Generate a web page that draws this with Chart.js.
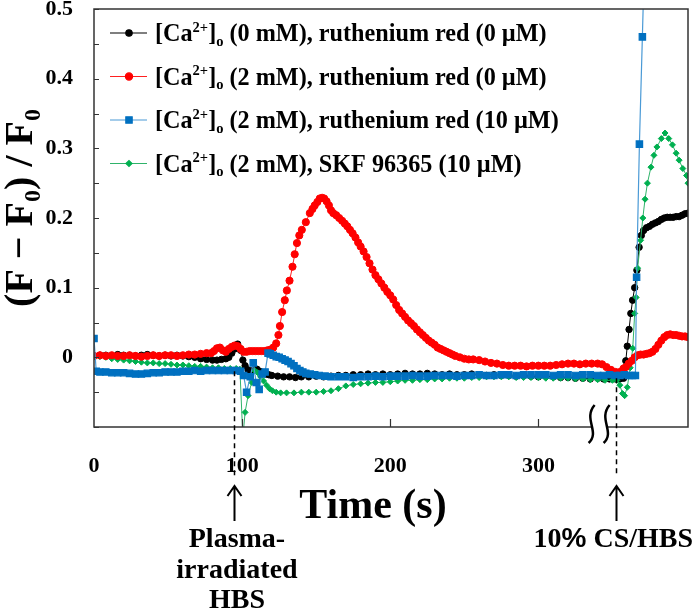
<!DOCTYPE html>
<html>
<head>
<meta charset="utf-8">
<script src="https://cdn.jsdelivr.net/npm/chart.js@4"></script>
<style>
html, body { margin: 0; padding: 0; background: #fff; }
#wrap { width: 697px; height: 612px; position: relative; }
</style>
</head>
<body>
<div id="wrap"><canvas id="chart"></canvas></div>
<script>
// [time (s), (F - F0) / F0]
var black = [
  [0,0.002],[4,0.003],[8,0.003],[12,0.002],[16,0.004],[20,0.003],[24,0.003],[28,0.002],[32,0.003],[36,0.004],
  [40,0.003],[44,0.002],[48,0.003],[52,0.002],[56,0.003],[60,0.002],[64,0.001],[68,0.000],[72,-0.002],[76,-0.003],
  [80,-0.004],[83,-0.004],[86,-0.003],[89,-0.002],[91,0.000],[93,0.006],[95,0.012],[97,0.019],[99,0.010],[100.5,-0.004],
  [102,-0.012],[104,-0.018],[106,-0.020],[108,-0.018],[110,-0.017],[112,-0.020],[114,-0.022],[116,-0.024],[118,-0.025],[120,-0.026],
  [124,-0.027],[128,-0.028],[132,-0.028],[136,-0.029],[140,-0.028],[145,-0.028],[150,-0.027],[155,-0.028],[160,-0.027],[165,-0.026],
  [170,-0.026],[175,-0.025],[180,-0.025],[185,-0.024],[190,-0.025],[195,-0.024],[200,-0.025],[205,-0.024],[210,-0.023],[215,-0.024],
  [220,-0.024],[225,-0.023],[230,-0.024],[235,-0.025],[240,-0.024],[245,-0.025],[250,-0.025],[255,-0.024],[260,-0.025],[265,-0.026],
  [270,-0.025],[275,-0.026],[280,-0.026],[285,-0.027],[290,-0.026],[295,-0.027],[300,-0.028],[305,-0.027],[310,-0.028],[315,-0.029],
  [320,-0.029],[325,-0.030],[330,-0.030],[335,-0.031],[340,-0.030],[344,-0.031],[348,-0.031],[352,-0.031],[355,-0.031],[357.5,-0.030],
  [359,-0.005],[360,0.016],[361.2,0.040],[362.4,0.063],[363.6,0.082],[365,0.100],[366.5,0.125],[368,0.158],[369.5,0.175],[371,0.182],
  [373,0.186],[375,0.188],[377,0.191],[379,0.193],[381,0.195],[383,0.198],[385,0.200],[387,0.201],[389,0.201],[391,0.201],
  [393,0.202],[395,0.202],[397,0.204],[399,0.206],[401,0.207]
];
var red = [
  [0,0.002],[4,0.003],[8,0.002],[12,0.003],[16,0.002],[20,0.002],[24,0.003],[28,0.002],[32,0.001],[36,0.002],
  [40,0.003],[44,0.002],[48,0.003],[52,0.003],[56,0.002],[60,0.003],[64,0.004],[68,0.004],[72,0.005],[76,0.006],
  [79,0.006],[81,0.009],[83,0.013],[85,0.014],[87,0.010],[89,0.008],[91,0.012],[93,0.015],[95,0.017],[97,0.016],
  [99,0.012],[101,0.008],[103,0.008],[105,0.009],[107,0.009],[109,0.009],[111,0.009],[113,0.009],[115,0.009],[117,0.010],
  [119,0.011],[121,0.014],[123,0.020],[124.5,0.032],[125.5,0.045],[127,0.065],[128.8,0.082],[130.2,0.096],[132,0.110],[134,0.130],
  [135.5,0.148],[137,0.164],[138.6,0.175],[140.3,0.183],[143,0.194],[145.7,0.207],[147.5,0.213],[149,0.218],[150.8,0.223],[152.4,0.228],
  [154,0.229],[155.4,0.228],[157,0.224],[158.6,0.218],[160,0.211],[161.5,0.207],[163.5,0.204],[165.5,0.200],[167.5,0.196],[169.3,0.192],
  [171,0.188],[172.8,0.183],[174.6,0.178],[176.5,0.172],[178.3,0.165],[180,0.159],[182,0.152],[184,0.144],[186,0.135],[188,0.126],
  [190,0.118],[192,0.112],[194,0.106],[196,0.100],[198,0.094],[200,0.089],[202,0.083],[204,0.075],[206,0.068],[208,0.063],
  [210,0.058],[212,0.053],[214,0.049],[216,0.045],[218,0.040],[220,0.036],[222,0.032],[224,0.028],[226,0.024],[228,0.021],
  [230,0.018],[232,0.014],[234,0.012],[236,0.010],[238,0.008],[240,0.006],[242,0.004],[244,0.002],[247,0.000],[250,-0.002],
  [253,-0.003],[256,-0.003],[260,-0.004],[264,-0.006],[268,-0.008],[272,-0.009],[276,-0.011],[280,-0.012],[284,-0.012],[288,-0.012],
  [292,-0.013],[296,-0.012],[300,-0.012],[304,-0.012],[308,-0.012],[312,-0.011],[316,-0.010],[320,-0.009],[324,-0.009],[328,-0.010],
  [332,-0.009],[336,-0.009],[340,-0.009],[343,-0.010],[346,-0.014],[349,-0.018],[352,-0.021],[354,-0.022],[356,-0.020],[357.5,-0.016],
  [359,-0.014],[361,-0.009],[363,-0.005],[365,0.000],[367,0.003],[369,0.004],[371,0.004],[373,0.005],[375,0.006],[377,0.008],
  [379,0.012],[381,0.018],[383,0.024],[385,0.029],[387,0.032],[389,0.033],[391,0.032],[393,0.032],[395,0.031],[397,0.030],
  [399,0.030],[401,0.029]
];
var blue = [
  [0,0.027],[1.5,-0.020],[4,-0.021],[8,-0.021],[12,-0.022],[16,-0.022],[20,-0.022],[24,-0.023],[28,-0.024],[32,-0.024],
  [36,-0.023],[40,-0.022],[44,-0.022],[48,-0.021],[52,-0.021],[56,-0.021],[60,-0.020],[64,-0.020],[68,-0.019],[72,-0.020],
  [76,-0.019],[80,-0.019],[84,-0.019],[88,-0.019],[92,-0.019],[96,-0.019],[99,-0.020],[101,-0.026],[103,-0.050],[105.5,-0.028],
  [107.5,-0.008],[109.5,-0.036],[111.5,-0.046],[113.5,-0.024],[115.5,-0.021],[117.5,0.006],[119,0.005],[121,0.003],[123,0.001],[125,0.000],
  [127,-0.002],[129,-0.004],[131,-0.006],[133,-0.009],[135,-0.012],[137,-0.016],[139,-0.019],[141,-0.021],[143,-0.023],[146,-0.024],
  [149,-0.025],[152,-0.026],[156,-0.027],[160,-0.028],[165,-0.028],[170,-0.028],[175,-0.029],[180,-0.028],[185,-0.028],[190,-0.027],
  [195,-0.028],[200,-0.027],[205,-0.027],[210,-0.027],[215,-0.026],[220,-0.027],[225,-0.027],[230,-0.026],[235,-0.026],[240,-0.026],
  [245,-0.027],[250,-0.026],[255,-0.026],[260,-0.025],[265,-0.026],[270,-0.026],[275,-0.025],[280,-0.025],[285,-0.026],[290,-0.025],
  [295,-0.025],[300,-0.025],[305,-0.025],[310,-0.026],[315,-0.025],[320,-0.025],[325,-0.026],[330,-0.025],[335,-0.025],[340,-0.026],
  [344,-0.026],[348,-0.025],[352,-0.026],[355,-0.026],[358,-0.025],[361,-0.026],[363.5,-0.026],[365.5,-0.026],[366.3,0.115],[368.2,0.306],
  [370.2,0.460],[372.2,0.620]
];
var green = [
  [0,0.002],[4,0.001],[8,0.000],[12,-0.002],[16,-0.003],[20,-0.004],[24,-0.005],[28,-0.006],[32,-0.007],[36,-0.008],
  [40,-0.008],[44,-0.009],[48,-0.009],[52,-0.010],[56,-0.011],[60,-0.011],[64,-0.012],[68,-0.013],[72,-0.013],[76,-0.014],
  [80,-0.015],[84,-0.015],[88,-0.016],[92,-0.016],[96,-0.016],[98.5,-0.017],[100.5,-0.115],[102,-0.079],[104,-0.055],[106.5,-0.036],
  [108.5,-0.019],[110.5,-0.022],[112.5,-0.028],[114.5,-0.034],[116.5,-0.040],[118.5,-0.045],[120.5,-0.048],[123,-0.050],[126,-0.051],[130,-0.051],
  [135,-0.051],[140,-0.050],[145,-0.050],[150,-0.050],[155,-0.049],[160,-0.048],[165,-0.045],[170,-0.041],[175,-0.039],[180,-0.038],
  [185,-0.037],[190,-0.036],[195,-0.036],[200,-0.035],[205,-0.034],[210,-0.033],[215,-0.033],[220,-0.032],[225,-0.032],[230,-0.031],
  [235,-0.031],[240,-0.030],[245,-0.030],[250,-0.030],[255,-0.029],[260,-0.029],[265,-0.028],[270,-0.028],[275,-0.028],[280,-0.028],
  [285,-0.029],[290,-0.029],[295,-0.029],[300,-0.029],[305,-0.030],[310,-0.030],[315,-0.030],[320,-0.030],[325,-0.031],[330,-0.031],
  [335,-0.032],[340,-0.032],[345,-0.033],[350,-0.033],[353,-0.033],[355,-0.040],[356.8,-0.052],[358.2,-0.055],[360,-0.043],[362,-0.015],
  [363.7,0.013],[365,0.063],[366,0.086],[367,0.128],[369,0.168],[370.5,0.200],[372,0.227],[373.6,0.250],[376,0.273],[378,0.290],
  [380,0.302],[383,0.314],[385.5,0.322],[388,0.314],[390.5,0.305],[393,0.293],[395,0.283],[397.5,0.271],[400,0.261],[401,0.250]
];

// legend text pieces: [text, 'sup' | 'sub' | undefined]
var legendLabels = [
  [['[Ca'], ['2+', 'sup'], [']'], ['o', 'sub'], [' (0 mM), ruthenium red (0 \u00b5M)']],
  [['[Ca'], ['2+', 'sup'], [']'], ['o', 'sub'], [' (2 mM), ruthenium red (0 \u00b5M)']],
  [['[Ca'], ['2+', 'sup'], [']'], ['o', 'sub'], [' (2 mM), ruthenium red (10 \u00b5M)']],
  [['[Ca'], ['2+', 'sup'], [']'], ['o', 'sub'], [' (2 mM), SKF 96365 (10 \u00b5M)']]
];
var yTitle = [['(F \u2212 F'], ['0', 'sub'], [') / F'], ['0', 'sub']];
var xTitle = 'Time (s)';
var xTickValues = [0, 100, 200, 300];
var markTimes = [94.5, 352.6];     // stimulus times (dashed lines)
var markLevels = [-0.02, -0.03];   // where each dashed line starts
var markLabels = [['Plasma-', 'irradiated', 'HBS'], ['10% CS/HBS']];
var breakTime = 341;

var SERIF = "'Liberation Serif', 'Times New Roman', serif";

function toXY(arr) {
  return arr.map(function (p) { return { x: p[0], y: p[1] }; });
}

function noPadding(s) {
  s.paddingTop = 0; s.paddingBottom = 0; s.paddingLeft = 0; s.paddingRight = 0;
}

function richText(ctx, x, y, parts, size, align) {
  var total = 0;
  parts.forEach(function (p) {
    ctx.font = 'bold ' + (p[1] ? size * 0.6 : size) + 'px ' + (p[2] || SERIF);
    total += ctx.measureText(p[0]).width;
  });
  var cx = align === 'center' ? x - total / 2 : x;
  parts.forEach(function (p) {
    var fs = p[1] ? size * 0.6 : size;
    ctx.font = 'bold ' + fs + 'px ' + (p[2] || SERIF);
    var dy = p[1] === 'sup' ? -size * 0.38 : (p[1] === 'sub' ? size * 0.2 : 0);
    ctx.fillText(p[0], cx, y + dy);
    cx += ctx.measureText(p[0]).width;
  });
}

var decorations = {
  id: 'decorations',
  afterDatasetsDraw: function (chart) {
    var ctx = chart.ctx, a = chart.chartArea;
    var xs = chart.scales.x, ys = chart.scales.y;
    ctx.save();
    // frame
    ctx.strokeStyle = '#333';
    ctx.lineWidth = 1.5;
    ctx.strokeRect(a.left, a.top, a.right - a.left, a.bottom - a.top);
    // inward ticks
    ctx.lineWidth = 1.2;
    ctx.beginPath();
    for (var v = -0.1; v <= 0.5001; v += 0.05) {
      var py = Math.round(ys.getPixelForValue(v)) + 0.5;
      ctx.moveTo(a.left, py); ctx.lineTo(a.left + 5, py);
    }
    [100, 200, 300].forEach(function (t) {
      var px = Math.round(xs.getPixelForValue(t)) + 0.5;
      ctx.moveTo(px, a.bottom); ctx.lineTo(px, a.bottom - 8);
    });
    ctx.stroke();

    // axis break
    var bx = xs.getPixelForValue(breakTime);
    ctx.fillStyle = '#fff';
    ctx.fillRect(bx - 7, a.bottom - 3, 14, 6);
    ctx.strokeStyle = '#000';
    ctx.lineWidth = 2.5;
    [-7.5, 7.5].forEach(function (o) {
      var cx = bx + o;
      ctx.beginPath();
      ctx.moveTo(cx + 3, a.bottom - 22);
      ctx.bezierCurveTo(cx - 9, a.bottom - 8, cx + 9, a.bottom + 5, cx - 3, a.bottom + 16);
      ctx.stroke();
    });

    // dashed stimulus lines and arrows
    ctx.strokeStyle = '#000';
    ctx.lineWidth = 1.5;
    markTimes.forEach(function (t, i) {
      var px = Math.round(xs.getPixelForValue(t)) + 0.5;
      ctx.setLineDash([5, 4]);
      ctx.beginPath();
      ctx.moveTo(px, ys.getPixelForValue(markLevels[i]));
      ctx.lineTo(px, 477);
      ctx.stroke();
      ctx.setLineDash([]);
      ctx.lineWidth = 2;
      ctx.beginPath();
      ctx.moveTo(px, 486); ctx.lineTo(px, 521);
      ctx.moveTo(px - 7, 496); ctx.lineTo(px, 486); ctx.lineTo(px + 7, 496);
      ctx.stroke();
      ctx.lineWidth = 1.5;
    });

    // texts below the axis
    ctx.fillStyle = '#000';
    ctx.textBaseline = 'alphabetic';
    ctx.textAlign = 'left';
    richText(ctx, 373, 518, [[xTitle]], 42, 'center');
    var p0 = xs.getPixelForValue(markTimes[0]);
    markLabels[0].forEach(function (s, k) {
      richText(ctx, p0 + 3, 547 + k * 30.5, [[s]], 28, 'center');
    });
    var p1 = xs.getPixelForValue(markTimes[1]);
    richText(ctx, p1 - 3, 547, [['10'], ['%', undefined, "'Liberation Sans', Arial, sans-serif"], [' CS/HBS']], 28, 'center');

    // y title
    ctx.save();
    ctx.translate(32, 208);
    ctx.rotate(-Math.PI / 2);
    richText(ctx, 0, 0, yTitle, 40, 'center');
    ctx.restore();

    // legend
    chart.data.datasets.forEach(function (ds, i) {
      var ly = 33 + i * 43.5;
      ctx.strokeStyle = ds.borderColor;
      ctx.lineWidth = 1.2;
      ctx.beginPath();
      ctx.moveTo(110, ly); ctx.lineTo(147, ly);
      ctx.stroke();
      ctx.fillStyle = ds.pointBackgroundColor;
      ctx.strokeStyle = ds.pointBackgroundColor;
      Chart.helpers.drawPoint(ctx, {
        pointStyle: ds.pointStyle, radius: ds.pointRadius, borderWidth: 1, rotation: 0
      }, 129, ly);
      ctx.fillStyle = '#000';
      richText(ctx, 155, ly + 8, legendLabels[i], 24.2, 'left');
    });
    ctx.restore();
  }
};

var ctx = document.getElementById('chart').getContext('2d');
new Chart(ctx, {
  type: 'line',
  data: {
    datasets: [{
      label: '0 mM, RR 0',
      data: toXY(black),
      borderColor: '#000000',
      pointBackgroundColor: '#000000',
      pointBorderColor: '#000000',
      pointStyle: 'circle',
      pointRadius: 3.2,
      borderWidth: 1,
      order: 3
    }, {
      label: '2 mM, RR 0',
      data: toXY(red),
      borderColor: '#ff2020',
      pointBackgroundColor: '#ff0000',
      pointBorderColor: '#ff0000',
      pointStyle: 'circle',
      pointRadius: 3.6,
      borderWidth: 1,
      order: 1
    }, {
      label: '2 mM, RR 10',
      data: toXY(blue),
      borderColor: '#4a9ad6',
      pointBackgroundColor: '#0070c0',
      pointBorderColor: '#0070c0',
      pointStyle: 'rect',
      pointRadius: 4.5,
      borderWidth: 1.2,
      order: 0
    }, {
      label: '2 mM, SKF',
      data: toXY(green),
      borderColor: '#2fb36a',
      pointBackgroundColor: '#00b050',
      pointBorderColor: '#00b050',
      pointStyle: 'rectRot',
      pointRadius: 3,
      borderWidth: 1,
      order: 2
    }]
  },
  options: {
    responsive: true,
    maintainAspectRatio: false,
    animation: false,
    devicePixelRatio: 1,
    layout: { padding: { left: 0, right: 9, top: 9, bottom: 0 } },
    plugins: { legend: { display: false }, tooltip: { enabled: false } },
    elements: { line: { tension: 0 } },
    scales: {
      x: {
        type: 'linear',
        min: 0,
        max: 401,
        afterBuildTicks: function (s) {
          s.ticks = xTickValues.map(function (v) { return { value: v }; });
        },
        afterFit: function (s) { s.height = 185; noPadding(s); },
        grid: { display: false, drawTicks: false },
        border: { display: false },
        ticks: {
          padding: 26,
          autoSkip: false,
          maxRotation: 0,
          color: '#000',
          font: { family: SERIF, size: 22, weight: 'bold' },
          callback: function (v) { return String(v); }
        }
      },
      y: {
        min: -0.1,
        max: 0.5,
        afterFit: function (s) { s.width = 94; noPadding(s); },
        grid: { display: false, drawTicks: false },
        border: { display: false },
        ticks: {
          stepSize: 0.1,
          padding: 21,
          color: '#000',
          font: { family: SERIF, size: 22, weight: 'bold' },
          callback: function (v) {
            if (v < -0.05) return '';
            return Math.abs(v) < 1e-9 ? '0' : v.toFixed(1);
          }
        }
      }
    }
  },
  plugins: [decorations]
});
</script>
</body>
</html>
